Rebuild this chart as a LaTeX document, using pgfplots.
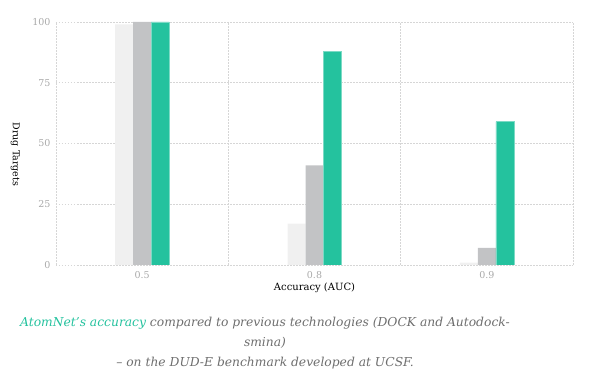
\documentclass[border=0pt]{standalone}
\usepackage{fontspec}
\setmainfont{DejaVu Serif}
\usepackage{pgfplots}
\pgfplotsset{compat=1.18}
\definecolor{cLight}{HTML}{F0F0F0}
\definecolor{cGrey}{HTML}{C2C3C5}
\definecolor{cGreen}{HTML}{24C29E}
\definecolor{cTick}{HTML}{A8A8A8}
\definecolor{cCap}{HTML}{6E6E6E}
\definecolor{cGrid}{HTML}{D6D6D6}
\begin{document}
\begin{tikzpicture}[x=1pt,y=1pt]
\useasboundingbox (0,0) rectangle (590,379);
\begin{axis}[
  at={(56pt,114pt)}, anchor=south west,
  scale only axis, width=517pt, height=243pt,
  ybar=0pt, bar width=18pt,
  xmin=-0.5, xmax=2.5, ymin=0, ymax=100,
  xtick={0,1,2}, xticklabels={0.5,0.8,0.9},
  minor xtick={-0.5,0.5,1.5,2.5},
  ytick={0,25,50,75,100},
  xmajorgrids=false, xminorgrids=true, ymajorgrids=true,
  grid style={cGrid, dash pattern=on 1.5pt off 1.5pt, line width=0.8pt},
  minor grid style={cGrid, dash pattern=on 1.5pt off 1.5pt, line width=0.8pt},
  axis line style={draw=none},
  major tick length=0pt, minor tick length=0pt,
  tick style={draw=none},
  /pgf/number format/assume math mode=true,
  ticklabel style={font=\fontsize{9.5}{10}\selectfont, text=cTick},
  xticklabel style={yshift=-3pt},
  yticklabel style={xshift=-2pt},
  xlabel={Accuracy (AUC)},
  xlabel style={font=\fontsize{10}{11}\selectfont, at={(axis description cs:0.5,0)}, anchor=center, yshift=-23pt},
  ylabel={Drug Targets},
  ylabel style={font=\fontsize{9.5}{10}\selectfont, rotate=180, at={(axis description cs:-0.079,0.455)}, anchor=center},
]
\addplot[fill=cLight, draw=none] coordinates {(0,99) (1,17) (2,1)};
\addplot[fill=cGrey, draw=none] coordinates {(0,100) (1,41) (2,7)};
\addplot[fill=cGreen, draw=cGreen!60!white, line width=0.4pt] coordinates {(0,100) (1,88) (2,59)};
\end{axis}
\node[font=\fontsize{12.3}{15}\selectfont\itshape, text=cCap, anchor=center] at (265,56) {\textcolor{cGreen}{AtomNet’s accuracy} compared to previous technologies (DOCK and Autodock-};
\node[font=\fontsize{12.3}{15}\selectfont\itshape, text=cCap, anchor=center] at (265,36) {smina)};
\node[font=\fontsize{12.3}{15}\selectfont\itshape, text=cCap, anchor=center] at (265,16) {– on the DUD-E benchmark developed at UCSF.};
\end{tikzpicture}
\end{document}
